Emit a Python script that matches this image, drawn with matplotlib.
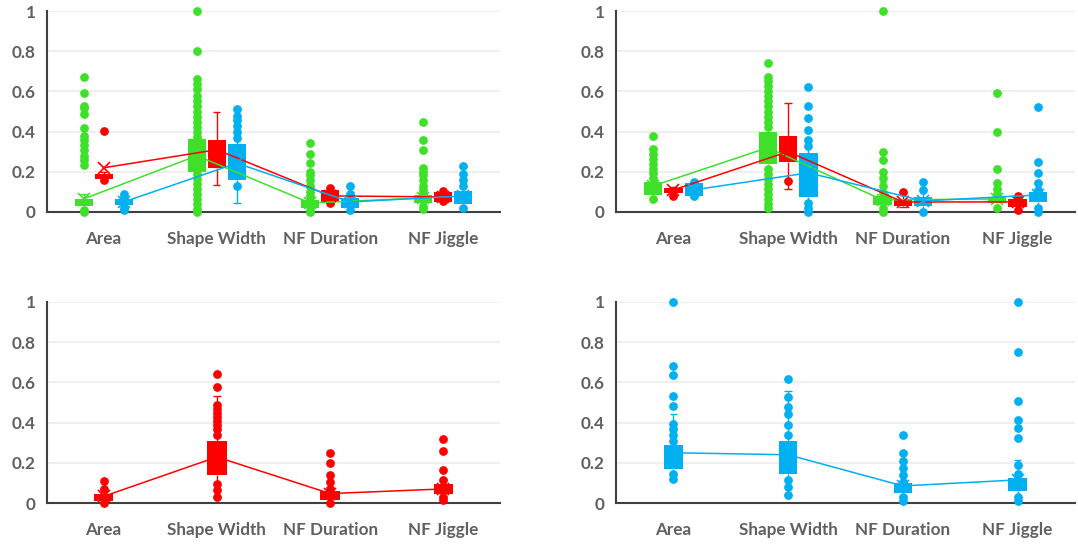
import matplotlib
matplotlib.use('Agg')
import matplotlib.pyplot as plt

categories = ['Area', 'Shape Width', 'NF Duration', 'NF Jiggle']

green = '#3FE02A'
red = '#FF0000'
blue = '#00B0F0'

# ---- top left: all three groups ----
tl_green_q1 = [0.03, 0.20, 0.02, 0.045]
tl_green_q3 = [0.065, 0.365, 0.06, 0.085]
tl_green_lo = [0.0, 0.0, 0.0, 0.02]
tl_green_hi = [0.09, 0.6, 0.12, 0.13]
tl_green_mean = [0.065, 0.28, 0.045, 0.07]
tl_green_pts = [
    [0.67, 0.594, 0.528, 0.515, 0.49, 0.42, 0.38, 0.36, 0.333, 0.306, 0.28, 0.257, 0.232, 0.0, 0.01],
    [1.0, 0.8, 0.66, 0.635, 0.61, 0.575, 0.55, 0.525, 0.5, 0.475, 0.45, 0.425, 0.4, 0.375,
     0.19, 0.165, 0.14, 0.115, 0.09, 0.065, 0.04, 0.015, 0.0],
    [0.343, 0.29, 0.243, 0.2, 0.185, 0.16, 0.13, 0.10, 0.078, 0.0, 0.01],
    [0.45, 0.36, 0.31, 0.22, 0.2, 0.185, 0.16, 0.13, 0.11, 0.09, 0.015, 0.03],
]
tl_red_q1 = [0.165, 0.22, 0.05, 0.05]
tl_red_q3 = [0.19, 0.36, 0.11, 0.1]
tl_red_lo = [0.16, 0.132, 0.04, 0.045]
tl_red_hi = [0.2, 0.5, 0.12, 0.105]
tl_red_mean = [0.22, 0.31, 0.08, 0.075]
tl_red_pts = [[0.405, 0.16], [], [0.12, 0.045], [0.105, 0.055]]
tl_blue_q1 = [0.033, 0.16, 0.02, 0.04]
tl_blue_q3 = [0.066, 0.338, 0.07, 0.105]
tl_blue_lo = [0.01, 0.045, 0.01, 0.02]
tl_blue_hi = [0.09, 0.51, 0.1, 0.227]
tl_blue_mean = [0.05, 0.243, 0.05, 0.08]
tl_blue_pts = [[0.09, 0.075, 0.01, 0.02], [0.51, 0.48, 0.46, 0.43, 0.40, 0.37, 0.13],
               [0.13, 0.09, 0.01], [0.227, 0.19, 0.16, 0.13, 0.02]]

# ---- top right: all three groups ----
tr_green_q1 = [0.086, 0.238, 0.036, 0.045]
tr_green_q3 = [0.147, 0.396, 0.078, 0.073]
tr_green_lo = [0.065, 0.02, 0.0, 0.02]
tr_green_hi = [0.2, 0.6, 0.15, 0.15]
tr_green_mean = [0.13, 0.32, 0.06, 0.065]
tr_green_pts = [
    [0.376, 0.315, 0.29, 0.263, 0.24, 0.215, 0.194, 0.17, 0.065],
    [0.743, 0.674, 0.65, 0.625, 0.6, 0.575, 0.55, 0.525, 0.5, 0.475, 0.45, 0.425,
     0.215, 0.19, 0.165, 0.14, 0.115, 0.09, 0.065, 0.04, 0.02],
    [1.0, 0.3, 0.257, 0.2, 0.17, 0.13, 0.094, 0.02, 0.0],
    [0.594, 0.396, 0.214, 0.144, 0.114, 0.09, 0.02],
]
tr_red_q1 = [0.094, 0.25, 0.03, 0.025]
tr_red_q3 = [0.12, 0.38, 0.065, 0.065]
tr_red_lo = [0.08, 0.114, 0.025, 0.01]
tr_red_hi = [0.125, 0.54, 0.1, 0.08]
tr_red_mean = [0.11, 0.3, 0.05, 0.05]
tr_red_pts = [[0.078], [0.152], [0.1], [0.08, 0.01]]
tr_blue_q1 = [0.078, 0.073, 0.03, 0.048]
tr_blue_q3 = [0.144, 0.296, 0.073, 0.098]
tr_blue_lo = [0.075, 0.0, 0.0, 0.0]
tr_blue_hi = [0.15, 0.36, 0.15, 0.15]
tr_blue_mean = [0.11, 0.195, 0.055, 0.085]
tr_blue_pts = [[0.15, 0.08], [0.624, 0.525, 0.467, 0.41, 0.36, 0.326, 0.045, 0.02, 0.0],
               [0.147, 0.11, 0.0], [0.52, 0.247, 0.194, 0.144, 0.11, 0.02, 0.0]]

# ---- bottom left: red only ----
bl_red_q1 = [0.01, 0.138, 0.017, 0.043]
bl_red_q3 = [0.046, 0.31, 0.058, 0.093]
bl_red_lo = [0.0, 0.03, 0.0, 0.013]
bl_red_hi = [0.07, 0.53, 0.08, 0.12]
bl_red_mean = [0.033, 0.229, 0.047, 0.07]
bl_red_pts = [[0.108, 0.07, 0.0],
              [0.64, 0.577, 0.486, 0.47, 0.448, 0.43, 0.41, 0.39, 0.37, 0.337, 0.096, 0.063, 0.03],
              [0.25, 0.2, 0.14, 0.105, 0.07, 0.0],
              [0.32, 0.257, 0.163, 0.116, 0.013, 0.03]]

# ---- bottom right: blue only ----
br_blue_q1 = [0.167, 0.146, 0.05, 0.06]
br_blue_q3 = [0.29, 0.31, 0.1, 0.124]
br_blue_lo = [0.12, 0.038, 0.0, 0.0]
br_blue_hi = [0.445, 0.556, 0.25, 0.215]
br_blue_mean = [0.25, 0.24, 0.085, 0.115]
br_blue_pts = [[1.0, 0.68, 0.638, 0.53, 0.483, 0.395, 0.37, 0.337, 0.31, 0.146, 0.12],
               [0.615, 0.527, 0.478, 0.445, 0.39, 0.34, 0.113, 0.08, 0.038],
               [0.34, 0.25, 0.21, 0.176, 0.138, 0.104, 0.03, 0.01],
               [1.0, 0.75, 0.507, 0.415, 0.373, 0.325, 0.187, 0.146, 0.03, 0.01]]

W, H = 1078, 544
fig = plt.figure(figsize=(W / 100, H / 100), dpi=100)
font = ['Lato', 'DejaVu Sans']


def make_axes(x0, x1, ytop, ybot):
    ax = fig.add_axes([x0 / W, 1 - ybot / H, (x1 - x0) / W, (ybot - ytop) / H])
    ax.set_xlim(-0.5, 3.5)
    ax.set_ylim(0, 1)
    ax.set_yticks([0, 0.2, 0.4, 0.6, 0.8, 1.0])
    ax.set_yticklabels(['0', '0.2', '0.4', '0.6', '0.8', '1'])
    ax.set_xticks(range(len(categories)))
    ax.set_xticklabels(categories)
    ax.tick_params(axis='both', length=0, labelcolor='#606060', labelsize=12.3)
    ax.tick_params(axis='y', pad=8)
    ax.tick_params(axis='x', pad=14)
    for lab in ax.get_xticklabels() + ax.get_yticklabels():
        lab.set_family(font)
        lab.set_fontweight('bold')
    ax.yaxis.grid(True, color='#EEEEEE', lw=1.3)
    ax.set_axisbelow(True)
    for s in ['top', 'right']:
        ax.spines[s].set_visible(False)
    for s in ['left', 'bottom']:
        ax.spines[s].set_color('#404040')
        ax.spines[s].set_linewidth(1.5)
    return ax


def draw_series(ax, offset, width, color, q1, q3, lo, hi, mean, pts):
    xs = [i + offset for i in range(len(categories))]
    for x, a, b, l, h in zip(xs, q1, q3, lo, hi):
        ax.vlines(x, l, a, color=color, lw=1, zorder=2)
        ax.vlines(x, b, h, color=color, lw=1, zorder=2)
        ax.hlines([l, h], x - width * 0.2, x + width * 0.2, color=color, lw=1, zorder=2)
    ax.bar(xs, [b - a for a, b in zip(q1, q3)], bottom=q1, width=width,
           color=color, zorder=3)
    for x, p in zip(xs, pts):
        ax.plot([x] * len(p), p, 'o', color=color, ms=6.3, mew=0,
                zorder=4, clip_on=False)
    ax.plot(xs, mean, '-', color=color, lw=1.1, marker='x', ms=8, mew=1.2, zorder=5)


ax_tl = make_axes(47, 500, 11, 212)
draw_series(ax_tl, -0.177, 0.16, green, tl_green_q1, tl_green_q3, tl_green_lo,
            tl_green_hi, tl_green_mean, tl_green_pts)
draw_series(ax_tl, 0.0, 0.16, red, tl_red_q1, tl_red_q3, tl_red_lo,
            tl_red_hi, tl_red_mean, tl_red_pts)
draw_series(ax_tl, 0.177, 0.16, blue, tl_blue_q1, tl_blue_q3, tl_blue_lo,
            tl_blue_hi, tl_blue_mean, tl_blue_pts)

ax_tr = make_axes(616, 1075, 11, 212)
draw_series(ax_tr, -0.177, 0.16, green, tr_green_q1, tr_green_q3, tr_green_lo,
            tr_green_hi, tr_green_mean, tr_green_pts)
draw_series(ax_tr, 0.0, 0.16, red, tr_red_q1, tr_red_q3, tr_red_lo,
            tr_red_hi, tr_red_mean, tr_red_pts)
draw_series(ax_tr, 0.177, 0.16, blue, tr_blue_q1, tr_blue_q3, tr_blue_lo,
            tr_blue_hi, tr_blue_mean, tr_blue_pts)

ax_bl = make_axes(47, 500, 302, 503)
draw_series(ax_bl, 0.0, 0.17, red, bl_red_q1, bl_red_q3, bl_red_lo,
            bl_red_hi, bl_red_mean, bl_red_pts)

ax_br = make_axes(616, 1075, 302, 503)
draw_series(ax_br, 0.0, 0.16, blue, br_blue_q1, br_blue_q3, br_blue_lo,
            br_blue_hi, br_blue_mean, br_blue_pts)

plt.savefig('out.png', dpi=100)
